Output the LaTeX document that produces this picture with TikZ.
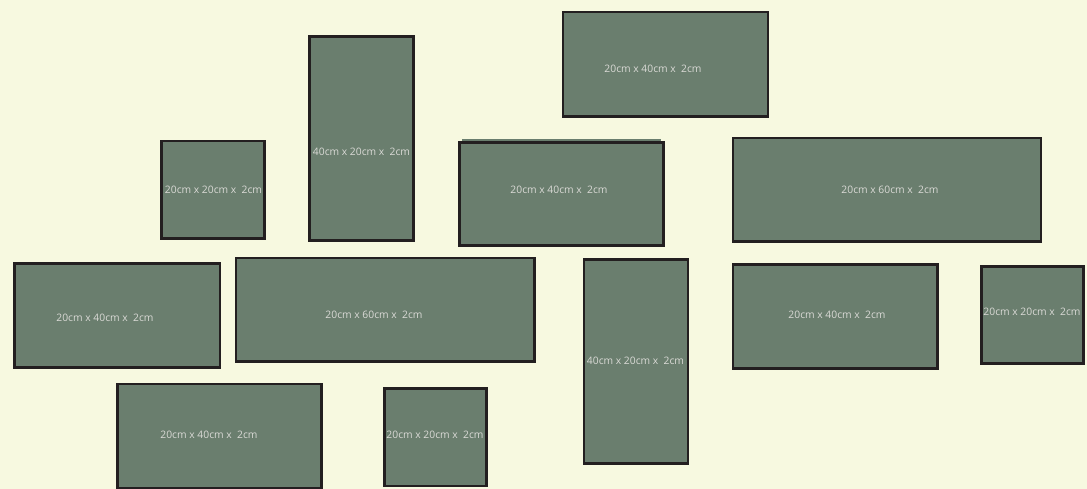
\documentclass[tikz,border=0pt]{standalone}
\usepackage{fontspec}
\setmainfont{Open Sans}
\definecolor{bg}{HTML}{F7F9E0}
\definecolor{panel}{HTML}{6A7E6E}
\definecolor{edge}{HTML}{231F20}
\definecolor{txt}{HTML}{DADAD6}
\begin{document}
\begin{tikzpicture}[x=1pt,y=-1pt,
  panelbox/.style={draw=edge,fill=panel,line width=2.8pt,inner sep=0pt,outer sep=0pt},
  lbl/.style={text=txt,font=\fontsize{10.3}{12}\selectfont,inner sep=0pt}]
\useasboundingbox[fill=bg] (0,0) rectangle (1087,489);
% panels
\draw[panelbox] (563,12) rectangle (768,116.5) coordinate (p1);
\draw[panelbox] (309.5,36.5) rectangle (413.5,240.5) coordinate (p2);
\draw[panelbox] (161.5,141) rectangle (264.5,238.5) coordinate (p3);
\draw[draw=panel,line width=2pt] (462,139.8) -- (661,139.8);
\draw[panelbox] (459.5,142.5) rectangle (663.5,245.5) coordinate (p4);
\draw[panelbox] (733,138) rectangle (1041,241.5) coordinate (p5);
\draw[panelbox] (14.5,263.5) rectangle (220,367.5) coordinate (p6);
\draw[panelbox] (236,258) rectangle (534.5,361.5) coordinate (p7);
\draw[panelbox] (584,259.5) rectangle (688,463.5) coordinate (p8);
\draw[panelbox] (733,264.5) rectangle (937.5,368.5) coordinate (p9);
\draw[panelbox] (981.5,266.5) rectangle (1083.5,363.5) coordinate (p10);
\draw[panelbox] (117.5,384) rectangle (321.5,488) coordinate (p11);
\draw[panelbox] (384.5,388.5) rectangle (486.5,486) coordinate (p12);
% labels
\node[lbl] (t1) at (653,69) {20cm x 40cm x~ 2cm};
\node[lbl] (t2) at (361.5,151.5) {40cm x 20cm x~ 2cm};
\node[lbl] (t3) at (213.5,189.5) {20cm x 20cm x~ 2cm};
\node[lbl] (t4) at (559,189.5) {20cm x 40cm x~ 2cm};
\node[lbl] (t5) at (890,190) {20cm x 60cm x~ 2cm};
\node[lbl] (t6) at (105,318) {20cm x 40cm x~ 2cm};
\node[lbl] (t7) at (374,314.5) {20cm x 60cm x~ 2cm};
\node[lbl] (t8) at (635.5,360.5) {40cm x 20cm x~ 2cm};
\node[lbl] (t9) at (837,314.5) {20cm x 40cm x~ 2cm};
\node[lbl] (t10) at (1032,312) {20cm x 20cm x~ 2cm};
\node[lbl] (t11) at (209,434.5) {20cm x 40cm x~ 2cm};
\node[lbl] (t12) at (435,434.5) {20cm x 20cm x~ 2cm};
\end{tikzpicture}
\end{document}
